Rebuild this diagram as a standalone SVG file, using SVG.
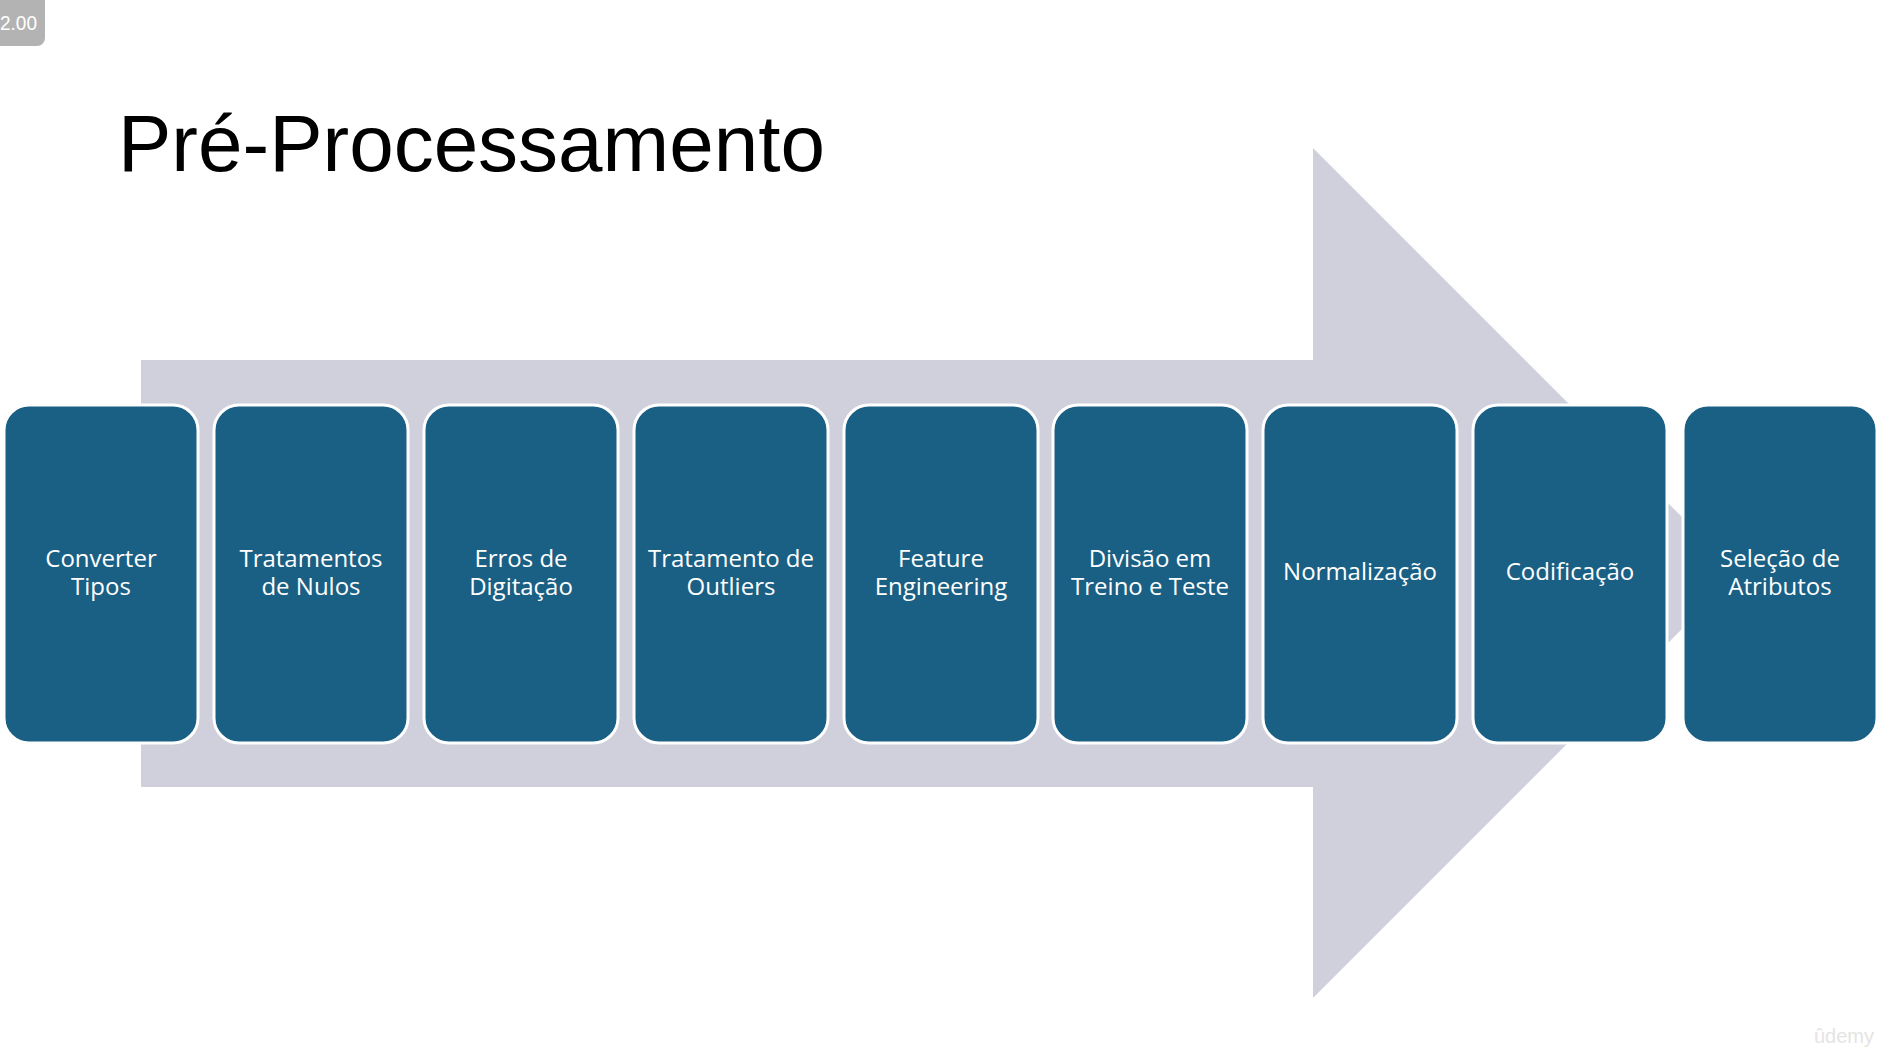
<svg xmlns="http://www.w3.org/2000/svg" width="1886" height="1048" viewBox="0 0 1886 1048">
  <style>
    .box { fill: #1A5F84; stroke: #FFFFFF; stroke-width: 3; }
    .lbl { font-family: "Open Sans", "Noto Sans", "Liberation Sans", sans-serif; font-size: 24px; fill: #FFFFFF; text-anchor: middle; }
    .title { font-family: "Liberation Sans", Arial, sans-serif; font-size: 80px; fill: #000000; }
  </style>
  <rect x="0" y="0" width="1886" height="1048" fill="#FFFFFF"/>
  <g id="badge">
    <rect x="-10" y="-10" width="55" height="56" rx="8" fill="#B3B3B3"/>
    <text x="0" y="30" font-family="Liberation Sans, Arial, sans-serif" font-size="20" fill="#FFFFFF" textLength="37" lengthAdjust="spacingAndGlyphs">2.00</text>
  </g>
  <g id="title">
    <text class="title" x="118" y="171">Pré-Processamento</text>
  </g>
  <g id="arrow">
    <polygon points="141,360 1313,360 1313,148 1738,573 1313,998 1313,787 141,787" fill="#CFD0DC"/>
  </g>
  <g id="connectors"></g>
  <g id="node1">
    <rect class="box" x="4" y="405" width="194" height="338" rx="25"/>
    <text class="lbl" y="567"><tspan x="101">Converter</tspan><tspan x="101" dy="28">Tipos</tspan></text>
  </g>
  <g id="node2">
    <rect class="box" x="214" y="405" width="194" height="338" rx="25"/>
    <text class="lbl" y="567"><tspan x="311">Tratamentos</tspan><tspan x="311" dy="28">de Nulos</tspan></text>
  </g>
  <g id="node3">
    <rect class="box" x="424" y="405" width="194" height="338" rx="25"/>
    <text class="lbl" y="567"><tspan x="521">Erros de</tspan><tspan x="521" dy="28">Digitação</tspan></text>
  </g>
  <g id="node4">
    <rect class="box" x="634" y="405" width="194" height="338" rx="25"/>
    <text class="lbl" y="567"><tspan x="731">Tratamento de</tspan><tspan x="731" dy="28">Outliers</tspan></text>
  </g>
  <g id="node5">
    <rect class="box" x="844" y="405" width="194" height="338" rx="25"/>
    <text class="lbl" y="567"><tspan x="941">Feature</tspan><tspan x="941" dy="28">Engineering</tspan></text>
  </g>
  <g id="node6">
    <rect class="box" x="1053" y="405" width="194" height="338" rx="25"/>
    <text class="lbl" y="567"><tspan x="1150">Divisão em</tspan><tspan x="1150" dy="28">Treino e Teste</tspan></text>
  </g>
  <g id="node7">
    <rect class="box" x="1263" y="405" width="194" height="338" rx="25"/>
    <text class="lbl" x="1360" y="580">Normalização</text>
  </g>
  <g id="node8">
    <rect class="box" x="1473" y="405" width="194" height="338" rx="25"/>
    <text class="lbl" x="1570" y="580">Codificação</text>
  </g>
  <g id="node9">
    <rect class="box" x="1683" y="405" width="194" height="338" rx="25"/>
    <text class="lbl" y="567"><tspan x="1780">Seleção de</tspan><tspan x="1780" dy="28">Atributos</tspan></text>
  </g>
  <g id="watermark">
    <text x="1814" y="1043" font-family="Liberation Sans, Arial, sans-serif" font-size="20" fill="#E4E4E4">ûdemy</text>
  </g>
</svg>
